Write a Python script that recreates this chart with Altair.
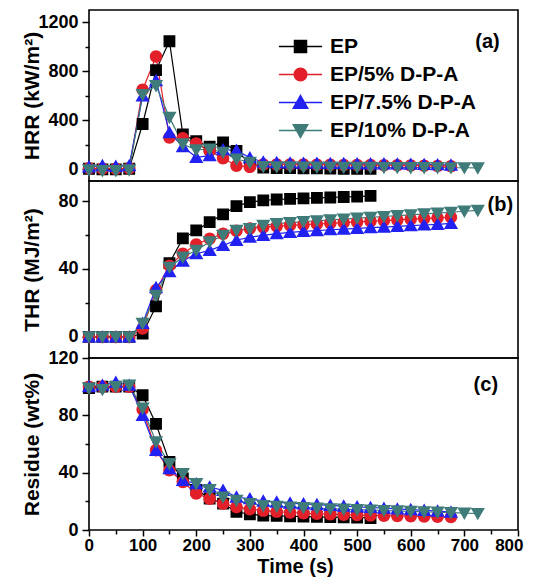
import altair as alt
import pandas as pd

FONT = "Liberation Sans"

series = ["EP", "EP/5% D-P-A", "EP/7.5% D-P-A", "EP/10% D-P-A"]
colors = ["#000000", "#E3202A", "#2121F2", "#3F7B78"]
# custom symbols: a short line through each marker (the line only shows where it is stroked, i.e. in the legend)
shape_paths = [
    "M-3.6,0H3.6M-1,-1H1V1H-1Z",
    "M-3.6,0H3.6M1.05,0A1.05,1.05 0 1,1 -1.05,0A1.05,1.05 0 1,1 1.05,0Z",
    "M-3.6,0H3.6M0,-1.15L1.2,0.95H-1.2Z",
    "M-3.6,0H3.6M0,1.15L1.2,-0.95H-1.2Z",
]

times = [0, 25, 50, 75, 100, 125, 150, 175, 200, 225, 250, 275, 300, 325, 350,
         375, 400, 425, 450, 475, 500, 525, 550, 575, 600, 625, 650, 675, 700, 725]

ep_hrr = [5, 0, 0, 5, 370, 810, 1045, 285, 230, 185, 220, 150, 50, 15, 10, 10, 8, 8, 6, 5, 5, 5]
ep_thr = [0, 0, 0, 0, 2, 18, 43.5, 58, 62.7, 67.6, 72.2, 77, 79.4, 80.4, 80.9, 81.3, 81.6, 81.9, 82.1, 82.4, 82.6, 83]
ep_res = [99, 100, 100, 100, 94, 74, 47.5, 36, 28, 22, 18.4, 12.6, 11, 10, 9.8, 9.6, 9.4, 9.2, 9, 8.8, 8.6, 8.4]

p5_hrr = [10, 5, 5, 10, 650, 920, 260, 255, 212, 150, 90, 30, 20, 40, 40, 40, 40, 38, 38, 36, 36, 35, 34, 33, 32, 30, 28, 25]
p5_thr = [0, 0, 0, 0, 5, 27.5, 42, 49, 54.5, 57.8, 60.8, 62.5, 63.8, 64.6, 65.2, 65.7, 66.1, 66.5, 66.9, 67.3, 67.7, 68.1, 68.5, 68.9, 69.3, 69.7, 70.1, 70.5]
p5_res = [100, 100, 100, 100, 84, 55.6, 41.6, 33.5, 25.5, 21.8, 18.4, 16, 14.5, 13.5, 12.8, 12.2, 11.7, 11.3, 11, 10.7, 10.4, 10.2, 10, 9.8, 9.6, 9.4, 9.2, 9]

p75_hrr = [20, 30, 25, 30, 600, 724, 300, 185, 98, 112, 160, 155, 95, 60, 55, 52, 50, 50, 48, 48, 46, 45, 45, 44, 42, 40, 38, 35]
p75_thr = [0, 0, 0, 0, 8, 29, 38.5, 44.7, 49, 51, 53.9, 56.9, 58.8, 59.8, 60.8, 61.5, 62.1, 62.6, 63.1, 63.5, 63.9, 64.3, 64.7, 65.1, 65.5, 65.9, 66.3, 66.8]
p75_res = [100, 101, 103, 101, 80, 55.6, 42.8, 34.7, 32.3, 30, 27.7, 23, 21.8, 20.2, 19.5, 18.8, 18.2, 17.7, 17.2, 16.7, 16.2, 15.7, 15.2, 14.7, 14.2, 13.7, 13.2, 12.5]

p10_hrr = [-5, -10, -10, -5, 610, 683, 424, 207, 158, 166, 139, 84, 57, 22, 20, 20, 18, 18, 18, 16, 16, 16, 15, 15, 14, 14, 14, 13, 13, 12]
p10_thr = [0, 0, 0, 0, 8, 24.5, 41, 47, 51, 55.9, 59.8, 62.7, 63.7, 65.7, 66.7, 67.3, 67.9, 68.4, 68.9, 69.4, 69.9, 70.4, 70.9, 71.4, 71.9, 72.4, 72.9, 73.4, 74, 74.5]
p10_res = [99, 98, 100, 101, 85, 61.4, 46.3, 39.3, 32.3, 28.1, 23, 20.7, 18.4, 17, 16.5, 16, 15.6, 15.2, 14.8, 14.5, 14.2, 13.9, 13.6, 13.3, 13, 12.7, 12.4, 12.1, 11.8, 11.5]

hrr_ticks = [0, 200, 400, 600, 800, 1000, 1200]
thr_ticks = [0, 20, 40, 60, 80]
res_ticks = [0, 20, 40, 60, 80, 100, 120]
x_ticks = [0, 50, 100, 150, 200, 250, 300, 350, 400, 450, 500, 550, 600, 650, 700, 750, 800]

panel_labels = ["(a)", "(b)", "(c)"]
label_time = [743, 767, 740]
label_value = [1039, 77.6, 101]

rows = []
for name, h, t, r in zip(series,
                         [ep_hrr, p5_hrr, p75_hrr, p10_hrr],
                         [ep_thr, p5_thr, p75_thr, p10_thr],
                         [ep_res, p5_res, p75_res, p10_res]):
    assert len(h) == len(t) == len(r)
    for i in range(len(h)):
        rows.append({"series": name, "time": times[i], "hrr": h[i], "thr": t[i], "res": r[i]})
df = pd.DataFrame(rows)

cscale = alt.Scale(domain=series, range=colors)
sscale = alt.Scale(domain=series, range=shape_paths)

legend_props = dict(
    title=None, orient="none", legendX=201, legendY=26, padding=0,
    labelFont=FONT, labelFontSize=21, labelFontWeight="bold", labelColor="black",
    labelOffset=19, rowPadding=6, symbolSize=144, symbolStrokeWidth=1.5,
)


def tick_size(step, major=7, minor=4):
    return {"condition": {"test": f"datum.value % {step} === 0", "value": major}, "value": minor}


def panel(field, domain, ticks, step, title, height, idx, show_x=False):
    yax = alt.Axis(values=ticks, format="d",
                   labelExpr=f"datum.value % {step} === 0 ? datum.label : ''",
                   title=title, titleX=-57, titleBaseline="middle",
                   tickSize=tick_size(step), labelPadding=4)
    if show_x:
        xax = alt.Axis(values=x_ticks, format="d", labelFlush=True, labelFlushOffset=5,
                       labelOverlap=False,
                       labelExpr="datum.value % 100 === 0 ? datum.label : ''",
                       labelFontSize=17, titleFontSize=20, titleX=206,
                       title="Time (s)", tickSize=tick_size(100, 6, 4), labelPadding=1, titlePadding=3)
    else:
        xax = None
    x = alt.X("time:Q", scale=alt.Scale(domain=[0, 800], nice=False, zero=False), axis=xax)
    y = alt.Y(f"{field}:Q", scale=alt.Scale(domain=domain, nice=False, zero=False), axis=yax)
    color = alt.Color("series:N", scale=cscale, legend=alt.Legend(**legend_props))
    shape = alt.Shape("series:N", scale=sscale, legend=alt.Legend(**legend_props))

    lines = alt.Chart(df).mark_line(strokeWidth=1.2).encode(x=x, y=y, color=color)
    pts = alt.Chart(df).mark_point(filled=True, opacity=1, size=140).encode(
        x=x, y=y, color=color, shape=shape)
    ann = pd.DataFrame({"time": [label_time[idx]], field: [label_value[idx]], "label": [panel_labels[idx]]})
    txt = alt.Chart(ann).mark_text(font=FONT, fontSize=20, fontWeight="bold", color="black",
                                   align="center", baseline="middle").encode(x=x, y=y, text="label:N")
    return alt.layer(lines, pts, txt).properties(width=429, height=height)


pa = panel("hrr", [-95, 1300], hrr_ticks, 400, "HRR (kW/m²)", 171, 0)
pb = panel("thr", [-12.4, 91.8], thr_ticks, 40, "THR (MJ/m²)", 177, 1)
pc = panel("res", [0, 120], res_ticks, 40, "Residue (wt%)", 172, 2, show_x=True)

chart = alt.vconcat(pa, pb, pc, spacing=0, bounds="flush").properties(
    padding={"left": 12, "top": 1, "right": 0, "bottom": 0}
).configure_view(stroke="black", strokeWidth=1.6).configure_axis(
    labelFont=FONT, labelFontSize=18, labelFontWeight="bold", labelColor="black",
    titleFont=FONT, titleFontSize=21, titleFontWeight="bold", titleColor="black",
    tickColor="black", tickWidth=1.5, domain=False, grid=False,
)

chart.save("out.html", embed_options={"renderer": "svg", "actions": False})
